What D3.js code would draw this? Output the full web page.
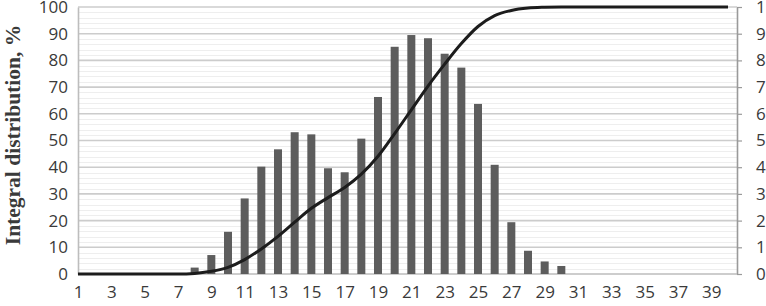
<!DOCTYPE html>
<html>
<head>
<meta charset="utf-8">
<script src="https://cdn.jsdelivr.net/npm/d3@7"></script>
<style>
  html, body { margin: 0; padding: 0; background: #fff; }
  svg { display: block; }
  .tick-label { font-family: "Open Sans", "DejaVu Sans", sans-serif; font-size: 17px; fill: #3a3a3a; }
  .y-title { font-family: "Liberation Serif", "DejaVu Serif", serif; font-size: 21.5px; font-weight: bold; fill: #3a3a3a; }
</style>
</head>
<body>
<div id="chart"></div>
<script>
  // Categories 1..40 on the x axis
  const categories = d3.range(1, 41);
  const xTickLabels = d3.range(1, 40, 2);

  // Differential distribution, % (right axis, 0..10)
  const barValues = [
    0, 0, 0, 0, 0, 0, 0, 0.24, 0.71, 1.58,
    2.83, 4.02, 4.67, 5.31, 5.23, 3.96, 3.81, 5.07, 6.63, 8.51,
    8.95, 8.83, 8.25, 7.73, 6.37, 4.09, 1.94, 0.87, 0.47, 0.30,
    0, 0, 0, 0, 0, 0, 0, 0, 0, 0
  ];

  // Integral distribution, % (left axis, 0..100)
  const lineValues = [
    0, 0, 0, 0, 0, 0, 0, 0.2, 1.0, 2.5,
    5.4, 9.4, 14.1, 19.4, 24.6, 28.6, 32.4, 37.4, 44.1, 52.6,
    61.5, 70.4, 78.6, 86.3, 92.7, 96.8, 98.7, 99.6, 99.9, 100,
    100, 100, 100, 100, 100, 100, 100, 100, 100, 100
  ];

  const leftTicks = d3.range(0, 101, 10);
  const rightTicks = d3.range(0, 11, 1);
  const yTitle = "Integral distribution, %";

  const width = 766, height = 306;
  const plot = { left: 78, right: 737, top: 7, bottom: 274 };

  const svg = d3.select("#chart").append("svg")
    .attr("width", width)
    .attr("height", height);

  const x = d3.scalePoint()
    .domain(categories)
    .range([plot.left, 728]);

  const yLeft = d3.scaleLinear().domain([0, 100]).range([plot.bottom, plot.top]);
  const yRight = d3.scaleLinear().domain([0, 10]).range([plot.bottom, plot.top]);

  // minor grid (every 2 units)
  svg.append("g")
    .selectAll("line")
    .data(d3.range(2, 100, 2).filter(v => v % 10 !== 0))
    .join("line")
    .attr("x1", plot.left).attr("x2", plot.right)
    .attr("y1", d => Math.round(yLeft(d)) + 0.5)
    .attr("y2", d => Math.round(yLeft(d)) + 0.5)
    .attr("stroke", "#eeeeee")
    .attr("stroke-width", 1);

  // major grid
  svg.append("g")
    .selectAll("line")
    .data(leftTicks.filter(v => v > 0))
    .join("line")
    .attr("x1", plot.left).attr("x2", plot.right)
    .attr("y1", d => yLeft(d))
    .attr("y2", d => yLeft(d))
    .attr("stroke", "#cccccc")
    .attr("stroke-width", 1.6);

  // left axis
  const leftAxis = svg.append("g")
    .attr("transform", `translate(${plot.left},0)`)
    .call(d3.axisLeft(yLeft).tickValues(leftTicks).tickSize(0).tickPadding(10));
  leftAxis.select(".domain").attr("stroke", "#bdbdbd").attr("stroke-width", 1.6);
  leftAxis.selectAll("text").attr("class", "tick-label").attr("fill", null);

  // right axis (top label runs off the page edge, as in the source)
  const rightAxis = svg.append("g")
    .attr("transform", `translate(${plot.right},0)`)
    .call(d3.axisRight(yRight).tickValues(rightTicks).tickSize(5).tickSizeOuter(0).tickPadding(14));
  rightAxis.select(".domain").attr("stroke", "#9a9a9a").attr("stroke-width", 1.6);
  rightAxis.selectAll(".tick line").attr("stroke", "#9a9a9a").attr("stroke-width", 1.2);
  rightAxis.selectAll("text").attr("class", "tick-label").attr("fill", null);

  // bottom axis
  const bottomAxis = svg.append("g")
    .attr("transform", `translate(0,${plot.bottom})`)
    .call(d3.axisBottom(x).tickValues(xTickLabels).tickSize(0).tickSizeOuter(0).tickPadding(12));
  bottomAxis.select(".domain")
    .attr("d", `M${plot.left},0H${plot.right}`)
    .attr("stroke", "#bdbdbd").attr("stroke-width", 1.6);
  bottomAxis.selectAll("text").attr("class", "tick-label").attr("fill", null);

  // bars
  const barW = 8;
  svg.append("g")
    .selectAll("rect")
    .data(categories.map((c, i) => ({ c, v: barValues[i] })).filter(d => d.v > 0))
    .join("rect")
    .attr("x", d => x(d.c) - barW / 2)
    .attr("y", d => yRight(d.v))
    .attr("width", barW)
    .attr("height", d => plot.bottom - yRight(d.v))
    .attr("fill", "#5d5d5d");

  // integral line
  const line = d3.line()
    .x((d, i) => x(categories[i]))
    .y(d => yLeft(d))
    .curve(d3.curveMonotoneX);

  svg.append("path")
    .datum(lineValues)
    .attr("fill", "none")
    .attr("stroke", "#1c1c1c")
    .attr("stroke-width", 3)
    .attr("stroke-linejoin", "round")
    .attr("d", line);

  // y title
  svg.append("text")
    .attr("class", "y-title")
    .attr("transform", `translate(20,135) rotate(-90)`)
    .attr("text-anchor", "middle")
    .text(yTitle);
</script>
</body>
</html>
